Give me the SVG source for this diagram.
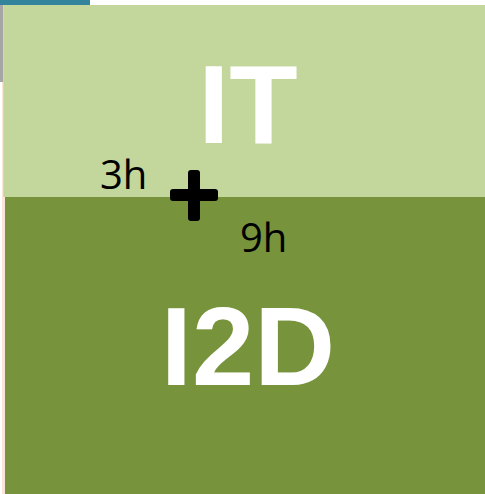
<svg xmlns="http://www.w3.org/2000/svg" width="485" height="494" viewBox="0 0 485 494">
<style>
.big{font-family:"Liberation Sans","Open Sans",sans-serif;font-weight:bold;fill:#ffffff;text-anchor:middle}
.lbl{font-family:"Open Sans","Liberation Sans",sans-serif;fill:#000000;font-size:40px}
</style>
<rect x="0" y="0" width="485" height="494" fill="#ffffff"/>
<rect x="0" y="0" width="90" height="5" fill="#31849b"/>
<rect x="2" y="82" width="3" height="412" fill="#fbe5d6"/>
<rect x="0" y="5" width="3.3" height="77" fill="#a6a6a6"/>
<g id="it">
<rect x="3.3" y="5" width="481.7" height="192" fill="#c3d69b"/>
<text class="big" x="248" y="143" font-size="112">IT</text>
</g>
<g id="i2d">
<rect x="5" y="197" width="480" height="297" fill="#77933c"/>
<text class="big" x="248" y="385" font-size="112">I2D</text>
</g>
<g id="plus">
<rect x="170" y="189" width="48" height="12" rx="3" fill="#000000"/>
<rect x="188" y="170" width="12" height="51" rx="3" fill="#000000"/>
</g>
<text class="lbl" x="100" y="189">3h</text>
<text class="lbl" x="240" y="252">9h</text>
</svg>
